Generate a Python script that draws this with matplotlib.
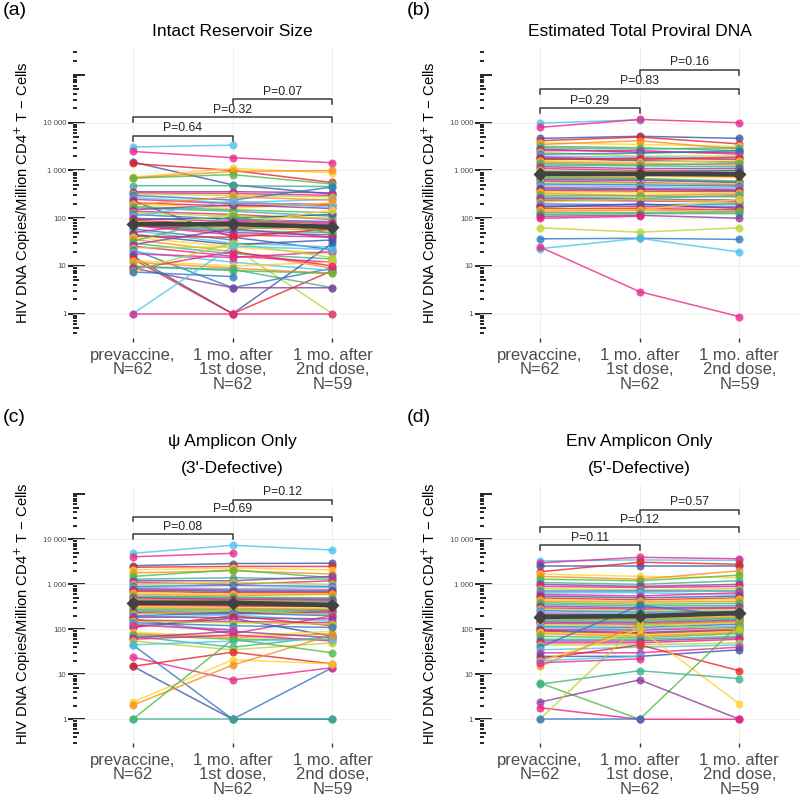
import numpy as np
import matplotlib
matplotlib.use("Agg")
import matplotlib.pyplot as plt
from matplotlib.ticker import FixedLocator, NullFormatter, NullLocator

plt.rcParams['font.family'] = ['Liberation Sans', 'DejaVu Sans']

nan = np.nan

timepoints = ["prevaccine,\nN=62", "1 mo. after\n1st dose,\nN=62", "1 mo. after\n2nd dose,\nN=59"]
ytick_vals = [1, 10, 100, 1000, 10000]
ytick_text = ["1", "10", "100", "1 000", "10 000"]

palette = ["#4FC3EC", "#E7298A", "#3A56A8", "#E8232B", "#FFD22E", "#F7901E",
           "#52B947", "#3CB28C", "#8A3E9E", "#EE1F7A", "#B9D532", "#2F78C2"]

# (a) Intact reservoir size
a_pre = [3100, 2500, 1500, 1400, 720, 700, 690, 480, 360, 340, 320, 300, 270, 250, 230, 210,
         200, 190, 175, 165, 150, 140, 130, 120, 110, 100, 95, 90, 85, 80, 76, 74, 72, 70, 65,
         60, 55, 50, 46, 42, 40, 36, 33, 30, 28, 26, 24, 22, 20, 18, 16, 14, 13, 12, 10, 9.5,
         9, 8.5, 8, 7.5, 1, 1]
a_1st = [3400, 1850, 500, 1000, 1100, 950, 820, 480, 360, 330, 300, 240, 210, 200, 40, 180,
         160, 280, 150, 140, 190, 120, 110, 95, 230, 85, 100, 75, 70, 65, 60, 55, 50, 45, 120,
         35, 30, 90, 28, 40, 25, 20, 110, 18, 60, 16, 25, 3.5, 12, 15, 1, 1, 10, 9, 8, 8.5,
         3.5, 20, 30, 6, 26, 1]
a_2nd = [nan, 1450, 320, 560, 900, 1000, 520, 460, 340, 300, 280, 450, 250, 200, 22, 190,
         210, 240, 130, 110, 160, 95, 100, 85, 170, 75, 120, 60, 150, 55, 70, 50, 45, 40, 65,
         nan, 25, 80, 35, 60, 18, 9, 48, 14, 40, 12, 1, 9, 8, 20, 30, 8, 12, 7, 7, 3.5, 3.5,
         10, 15, nan, 22, 1]
a_median = [75, 75, 66]
a_brackets = [(1, 2, 5300, "P=0.64"), (1, 3, 13000, "P=0.32"), (2, 3, 31000, "P=0.07")]

# (b) Estimated total proviral DNA
b_pre = [9800, 8000, 4700, 4200, 3800, 3500, 3200, 3000, 2800, 2600, 2400, 2200, 2000, 1900,
         1800, 1700, 1600, 1500, 1400, 1300, 1200, 1100, 1000, 950, 900, 870, 850, 830, 800,
         760, 720, 680, 640, 600, 560, 520, 480, 440, 410, 380, 350, 330, 300, 280, 260, 240,
         220, 200, 190, 180, 170, 160, 150, 140, 130, 120, 110, 100, 63, 37, 23, 25]
b_1st = [11500, 11700, 5200, 5000, 3500, 4200, 3000, 2800, 2400, 2600, 2000, 2300, 1900, 1700,
         1600, 1800, 1500, 1400, 1300, 1250, 1100, 1000, 950, 900, 880, 850, 820, 800, 760,
         720, 680, 650, 620, 560, 540, 500, 460, 420, 400, 370, 340, 300, 290, 260, 250, 230,
         250, 190, 180, 175, 200, 160, 150, 145, 130, 125, 115, 110, 51, 38, 38, 2.9]
b_2nd = [nan, 10000, 4700, 3600, 3200, 2800, 2600, 3000, 2400, 2200, 2000, 2600, 1800, 1900,
         1500, 1700, 1600, 1300, 1400, 1200, 1100, 1000, 950, 1000, 850, 820, 800, 760, 700,
         nan, 600, 580, 560, 500, 520, 470, 430, 400, 380, 360, 330, 320, 280, 300, 240, 220,
         210, 200, 180, 170, 160, 150, 250, 140, 135, 125, 100, nan, 63, 36, 19.6, 0.87]
b_median = [850, 850, 830]
b_brackets = [(1, 2, 20000, "P=0.29"), (1, 3, 51000, "P=0.83"), (2, 3, 127000, "P=0.16")]

# (c) psi amplicon only (3'-defective)
c_pre = [4900, 4100, 2600, 2400, 2100, 1800, 1500, 1300, 1200, 1100, 1000, 900, 850, 800, 750,
         700, 650, 600, 550, 520, 500, 470, 450, 420, 400, 380, 360, 340, 320, 300, 280, 260,
         240, 230, 220, 200, 180, 170, 115, 110, 85, 80, 75, 70, 65, 60, 55, 45, 45, 24, 15, 15,
         2.4, 2.05, 1, 1, 190, 160, 150, 140, 130, 125]
c_1st = [7400, 4900, 2900, 2500, 2300, 2000, 2100, 1400, 1200, 1000, 1100, 950, 800, 750, 700,
         650, 600, 560, 520, 500, 470, 450, 430, 400, 380, 360, 340, 330, 300, 290, 270, 250,
         240, 220, 260, 230, 210, 80, 175, 200, 70, 65, 60, 40, 90, 75, 35, 1, 55, 7.5, 1, 31,
         21, 16, 60, 1, 180, 150, 140, 120, 100, 95]
c_2nd = [5800, nan, 2950, 2500, 2100, 1700, 1400, 1300, 1500, 1200, 1000, 900, 850, 750, 700,
         650, 620, 600, 500, 480, 460, 430, 410, 400, 380, 350, 340, 320, 300, 280, 270, 260,
         230, 250, 210, 200, 150, 200, 70, 120, 90, 80, 60, 70, 65, 55, 50, 14, 60, 14, 1, 17,
         17, 75, 30, 1, 170, 140, 130, 110, nan, nan]
c_median = [390, 390, 345]
c_brackets = [(1, 2, 12900, "P=0.08"), (1, 3, 32000, "P=0.69"), (2, 3, 76000, "P=0.12")]

# (d) env amplicon only (5'-defective)
d_pre = [3300, 3000, 2600, 1900, 1700, 1500, 1300, 1100, 1000, 900, 800, 700, 650, 600, 550,
         500, 460, 420, 390, 360, 330, 300, 280, 260, 240, 220, 200, 195, 185, 175, 165, 155,
         145, 135, 125, 115, 110, 100, 95, 90, 85, 80, 70, 60, 55, 50, 45, 40, 35, 30, 25, 22,
         19.5, 15, 6.4, 6, 2.4, 1.8, 1, 1, 20, 18]
d_1st = [3500, 4000, 2600, 3100, 1500, 1300, 1200, 1000, 900, 850, 750, 700, 650, 550, 500,
         450, 420, 400, 360, 330, 300, 280, 260, 240, 220, 210, 200, 190, 180, 170, 160, 150,
         140, 130, 120, 110, 100, 95, 85, 80, 75, 70, 65, 60, 55, 50, 45, 340, 40, 30, 25, 45,
         100, 130, 1, 12, 7.5, 1, 130, 1, 25, 22]
d_2nd = [3400, 3700, 2600, 2800, 1400, 2000, 1600, 1200, 1000, 900, 800, 700, 600, 650, 550,
         500, 470, 420, 380, 340, 310, 290, 270, 250, 240, 230, 220, 215, 200, 190, 180, 170,
         160, 150, 140, 130, 120, 110, 100, 95, 90, 85, 80, 70, 65, 60, 50, 200, 45, 40, 35, 12,
         2.2, 150, 130, 8, 1, 1, 100, nan, nan, nan]
d_median = [190, 195, 230]
d_brackets = [(1, 2, 7400, "P=0.11"), (1, 3, 18400, "P=0.12"), (2, 3, 46000, "P=0.57")]


def add_log_ticks(ax):
    decades = [10.0 ** k for k in range(-1, 7)]
    fives = [5 * d for d in decades]
    others = [m * d for d in decades for m in (2, 3, 4, 6, 7, 8, 9)]
    ax.yaxis.set_minor_locator(FixedLocator(others))
    ax.yaxis.set_minor_formatter(NullFormatter())
    ax.tick_params(axis='y', which='minor', direction='in', length=2.6, width=1.2,
                   color='black')
    for locs, length in ((decades, 8.5), (fives, 4.5)):
        sec = ax.secondary_yaxis('left')
        sec.set_yticks(locs)
        sec.yaxis.set_minor_locator(NullLocator())
        sec.tick_params(axis='y', direction='in', length=length, width=1.2,
                        labelleft=False, color='black')
        sec.spines['left'].set_visible(False)


def panel(rect, pre, first, second, medians, brackets, title, ylim, letter, letter_xy):
    ax = fig.add_axes(rect)
    x = np.arange(1, 4)
    vals = np.array([pre, first, second], dtype=float).T
    for i, row in enumerate(vals):
        c = palette[i % len(palette)]
        ax.plot(x, row, '-', color=c, alpha=0.8, lw=1.1, zorder=2)
        ax.plot(x, row, 'o', color=c, alpha=0.8, ms=5.8, mec='none', zorder=3)
    ax.plot(x, medians, '-', color='#424242', lw=3.3, zorder=5)
    ax.plot(x, medians, 'D', color='#424242', ms=7.5, mec='none', zorder=6)

    tip = 10 ** -0.1
    for x1, x2, yb, label in brackets:
        ax.plot([x1, x1, x2, x2], [yb * tip, yb, yb, yb * tip], color='#3A3A3A', lw=1.1,
                zorder=7, clip_on=False)
        ax.annotate(label, xy=((x1 + x2) / 2, yb), xytext=(0, 1.2), textcoords='offset points',
                    ha='center', va='bottom', fontsize=8.8, color='#222222')

    ax.set_yscale('log')
    ax.set_ylim(*ylim)
    ax.set_xlim(0.4, 3.6)
    ax.set_xticks(x)
    ax.set_xticklabels(timepoints, fontsize=12, color='#4D4D4D', linespacing=0.95)
    ax.set_yticks(ytick_vals)
    ax.set_yticklabels(ytick_text, fontsize=5.6, color='#4D4D4D')
    ax.tick_params(axis='x', which='major', length=3.2, width=1.0, color='#333333', pad=4)
    ax.tick_params(axis='y', which='major', direction='out', length=3.4, width=1.2,
                   color='black', pad=1.5)
    add_log_ticks(ax)
    ax.grid(True, which='major', color='#EDEDED', lw=0.6)
    ax.set_axisbelow(True)
    for s in ax.spines.values():
        s.set_visible(False)
    ax.set_title(title, fontsize=12.5, pad=9, linespacing=2.0)
    ax.set_ylabel("HIV DNA Copies/Million CD4$^{+}$ T \u2212 Cells", fontsize=10.6)
    ax.yaxis.set_label_coords(-0.125, 0.5)
    fig.text(letter_xy[0], letter_xy[1], letter, fontsize=14, va='top', ha='left')
    return ax


fig = plt.figure(figsize=(8, 8.01), dpi=100)

top_ylim = (0.31, 3.66e5)
bot_ylim = (0.297, 1.62e5)

panel([0.0913, 0.578, 0.399, 0.362], a_pre, a_1st, a_2nd, a_median, a_brackets,
      "Intact Reservoir Size", top_ylim, "(a)", (0.004, 0.997))
panel([0.600, 0.578, 0.399, 0.362], b_pre, b_1st, b_2nd, b_median, b_brackets,
      "Estimated Total Proviral DNA", top_ylim, "(b)", (0.508, 0.997))
panel([0.0913, 0.0725, 0.399, 0.322], c_pre, c_1st, c_2nd, c_median, c_brackets,
      "\u03c8 Amplicon Only\n(3'-Defective)", bot_ylim, "(c)", (0.004, 0.49))
panel([0.600, 0.0725, 0.399, 0.322], d_pre, d_1st, d_2nd, d_median, d_brackets,
      "Env Amplicon Only\n(5'-Defective)", bot_ylim, "(d)", (0.508, 0.49))

fig.savefig("out.png", dpi=100)
